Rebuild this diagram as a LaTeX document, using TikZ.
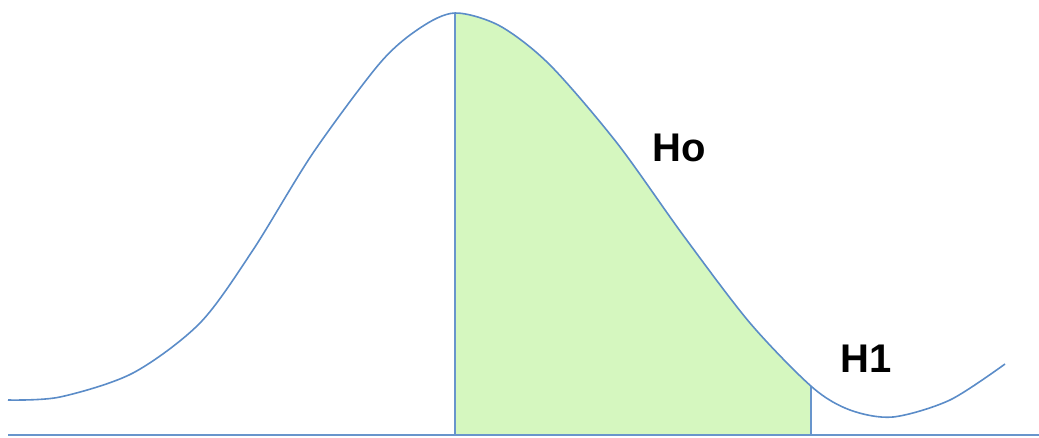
\documentclass[tikz,border=0pt]{standalone}
\usepackage{fontspec}
\setmainfont{Liberation Sans}
\definecolor{curveblue}{RGB}{91,140,200}
\definecolor{lineblue}{RGB}{104,149,204}
\definecolor{fillgreen}{RGB}{213,247,191}
\tikzset{
  curve/.style={draw=curveblue, line width=1.6pt},
  vline/.style={draw=lineblue, line width=2.6pt},
  baseline/.style={draw=lineblue, line width=2pt},
  hlabel/.style={inner sep=0pt, anchor=base west, font=\fontsize{40}{40}\selectfont\bfseries, text=black}
}
\newcommand{\curvepts}{(8,400) (60,397) (133,373) (200,323) (253,250) (313,153) (380,63) (420,28) (455,13) (500,26) (550,65) (617,143) (683,235) (750,323) (812,387) (850,410) (893,417) (950,400) (1005,364)}
\begin{document}
\begin{tikzpicture}[x=1pt, y=-1pt]
\useasboundingbox (0,0) rectangle (1039,437);
% green area under the curve
\begin{scope}
  \clip (455,0) rectangle (811,435);
  \fill[fillgreen] plot[smooth] coordinates {\curvepts} -- (1005,435) -- (8,435) -- cycle;
\end{scope}
% baseline
\coordinate (bl) at (8,435);
\coordinate (br) at (1039,435);
\draw[baseline] (bl) -- (br);
% vertical lines
\coordinate (peak) at (455,13);
\coordinate (peakfoot) at (455,435);
\coordinate (cut) at (811,386);
\coordinate (cutfoot) at (811,435);
\draw[vline] (peak) -- (peakfoot);
\draw[vline] (cut) -- (cutfoot);
% curve
\draw[curve] plot[smooth] coordinates {\curvepts};
% labels
\node[hlabel] (ho) at (652,161) {Ho};
\node[hlabel] (h1) at (840,372) {H1};
\end{tikzpicture}
\end{document}
